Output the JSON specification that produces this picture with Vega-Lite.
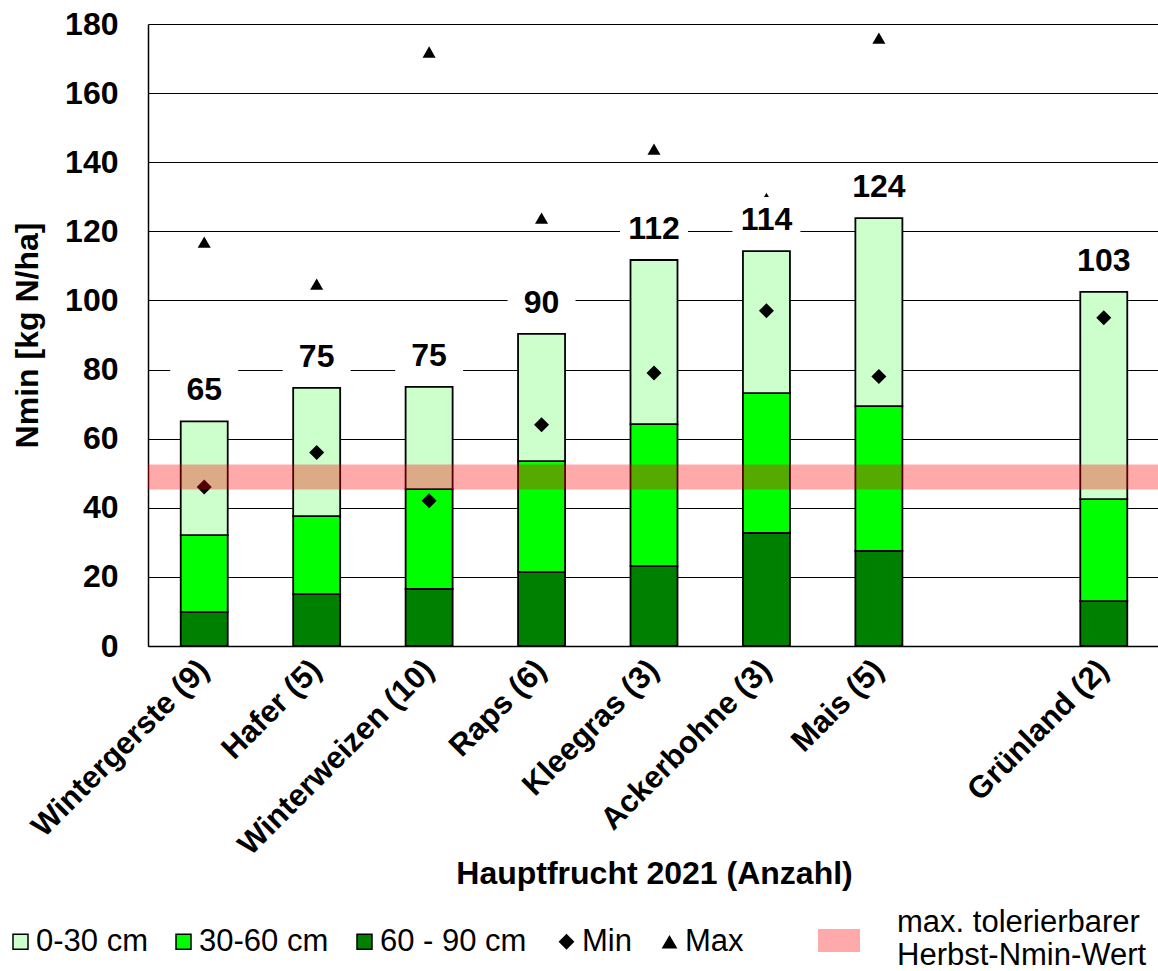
{
  "$schema": "https://vega.github.io/schema/vega-lite/v6.json",
  "autosize": {"type": "none"},
  "padding": {"left": 148, "top": 24, "right": 0, "bottom": 325},
  "width": 1012,
  "height": 622,
  "background": "white",
  "config": {
    "font": "Liberation Sans",
    "view": {"stroke": null},
    "axis": {"labelFont": "Liberation Sans", "titleFont": "Liberation Sans", "labelColor": "black", "titleColor": "black"},
    "legend": {"labelFont": "Liberation Sans", "labelColor": "black", "labelLimit": 400}
  },
  "data": {
    "values": [
      {"crop": "Wintergerste (9)", "d": 9.8, "m": 32.1, "t": 65, "mn": 46, "mx": 116.9, "label": "65"},
      {"crop": "Hafer (5)", "d": 15, "m": 37.6, "t": 74.7, "mn": 56, "mx": 104.7, "label": "75"},
      {"crop": "Winterweizen (10)", "d": 16.5, "m": 45.4, "t": 75, "mn": 42, "mx": 171.9, "label": "75"},
      {"crop": "Raps (6)", "d": 21.4, "m": 53.5, "t": 90.3, "mn": 64, "mx": 123.8, "label": "90"},
      {"crop": "Kleegras (3)", "d": 23.1, "m": 64.2, "t": 111.7, "mn": 79, "mx": 143.8, "label": "112"},
      {"crop": "Ackerbohne (3)", "d": 32.7, "m": 73.2, "t": 114.3, "mn": 97, "mx": 129.5, "label": "114"},
      {"crop": "Mais (5)", "d": 27.5, "m": 69.4, "t": 123.8, "mn": 78, "mx": 175.9, "label": "124"},
      {"crop": "Grünland (2)", "d": 13, "m": 42.5, "t": 102.5, "mn": 95, "mx": 111, "label": "103"}
    ]
  },
  "encoding": {
    "x": {
      "field": "crop", "type": "nominal",
      "scale": {"domain": ["Wintergerste (9)", "Hafer (5)", "Winterweizen (10)", "Raps (6)", "Kleegras (3)", "Ackerbohne (3)", "Mais (5)", " ", "Grünland (2)"], "paddingInner": 0.582, "paddingOuter": 0.291},
      "axis": {
        "title": "Hauptfrucht 2021 (Anzahl)", "titleFontSize": 32, "titleFontWeight": "bold", "titlePadding": 12,
        "labelAngle": -45, "labelAlign": "right", "labelBaseline": "middle", "labelFontSize": 31, "labelFontWeight": "bold",
        "labelPadding": 19, "ticks": false, "domainColor": "black", "domainWidth": 1.5, "grid": false, "labelLimit": 400
      }
    }
  },
  "layer": [
    {
      "mark": {"type": "bar", "stroke": "black", "strokeWidth": 1.8},
      "encoding": {
        "y": {"field": "d", "type": "quantitative", "scale": {"domain": [0, 180]},
          "axis": {"title": "Nmin [kg N/ha]", "titleFontSize": 32, "titleFontWeight": "bold", "titlePadding": 20,
            "values": [0, 20, 40, 60, 80, 100, 120, 140, 160, 180], "labelFontSize": 32, "labelFontWeight": "bold",
            "labelPadding": 30, "ticks": false, "grid": true, "gridColor": "black", "gridWidth": 1, "gridOpacity": 1,
            "domainColor": "black", "domainWidth": 1.5}},
        "fill": {"datum": "60 - 90 cm", "scale": {"domain": ["0-30 cm", "30-60 cm", "60 - 90 cm"], "range": ["#ccffcc", "#00ff00", "#008000"]},
          "legend": {"title": null, "orient": "none", "legendX": -143, "legendY": 902, "direction": "horizontal",
            "symbolType": "square", "symbolSize": 225, "symbolStrokeColor": "black", "symbolStrokeWidth": 1.5,
            "labelFontSize": 31, "labelOffset": 0, "columnPadding": 20}}
      }
    },
    {
      "mark": {"type": "bar", "stroke": "black", "strokeWidth": 1.8},
      "encoding": {
        "y": {"field": "d", "type": "quantitative"},
        "y2": {"field": "m"},
        "fill": {"datum": "30-60 cm"}
      }
    },
    {
      "mark": {"type": "bar", "stroke": "black", "strokeWidth": 1.8},
      "encoding": {
        "y": {"field": "m", "type": "quantitative"},
        "y2": {"field": "t"},
        "fill": {"datum": "0-30 cm"}
      }
    },
    {
      "mark": {"type": "point", "filled": true, "color": "black", "size": 225, "opacity": 1},
      "encoding": {
        "y": {"field": "mn", "type": "quantitative"},
        "shape": {"datum": "Min", "scale": {"domain": ["Min", "Max"], "range": ["diamond", "triangle-up"]},
          "legend": {"title": null, "orient": "none", "legendX": 403, "legendY": 902, "direction": "horizontal",
            "symbolFillColor": "black", "symbolStrokeWidth": 0, "symbolSize": 250, "labelFontSize": 31, "labelOffset": 0, "columnPadding": 22}}
      }
    },
    {
      "mark": {"type": "point", "filled": true, "color": "black", "size": 170, "opacity": 1},
      "encoding": {
        "y": {"field": "mx", "type": "quantitative"},
        "shape": {"datum": "Max"}
      }
    },
    {
      "data": {"values": [{"lo": 45.3, "hi": 52.5, "name": "Herbst-Nmin-Wert"}]},
      "mark": {"type": "rect", "opacity": 0.333},
      "encoding": {
        "x": null,
        "y": {"field": "lo", "type": "quantitative"},
        "y2": {"field": "hi"},
        "color": {"field": "name", "type": "nominal", "scale": {"range": ["#ff0000"]},
          "legend": {"title": null, "orient": "none", "legendX": 669, "legendY": 877,
            "symbolType": "M-1,0.28H1V1.38H-1Z", "symbolSize": 1764, "labelFontSize": 31, "labelOffset": 36,
            "labelExpr": "['max. tolerierbarer', 'Herbst-Nmin-Wert']",
            "encode": {
              "symbols": {"update": {"fill": {"value": "#ffaaaa"}, "stroke": {"value": "#555555"}, "strokeWidth": {"value": 2}, "opacity": {"value": 1}, "fillOpacity": {"value": 1}, "strokeOpacity": {"value": 1}}},
              "labels": {"update": {"lineHeight": {"value": 36}}}
            }}}
      }
    },
    {
      "mark": {"type": "point", "filled": true, "color": "white", "opacity": 1, "shape": "M-1,-0.68H1V0.68H-1Z", "size": 4624, "yOffset": -31, "strokeWidth": 0},
      "encoding": {
        "y": {"field": "t", "type": "quantitative"}
      }
    },
    {
      "mark": {"type": "text", "fontSize": 32, "fontWeight": "bold", "dy": -31, "baseline": "middle", "color": "black"},
      "encoding": {
        "y": {"field": "t", "type": "quantitative"},
        "text": {"field": "label"}
      }
    }
  ]
}
